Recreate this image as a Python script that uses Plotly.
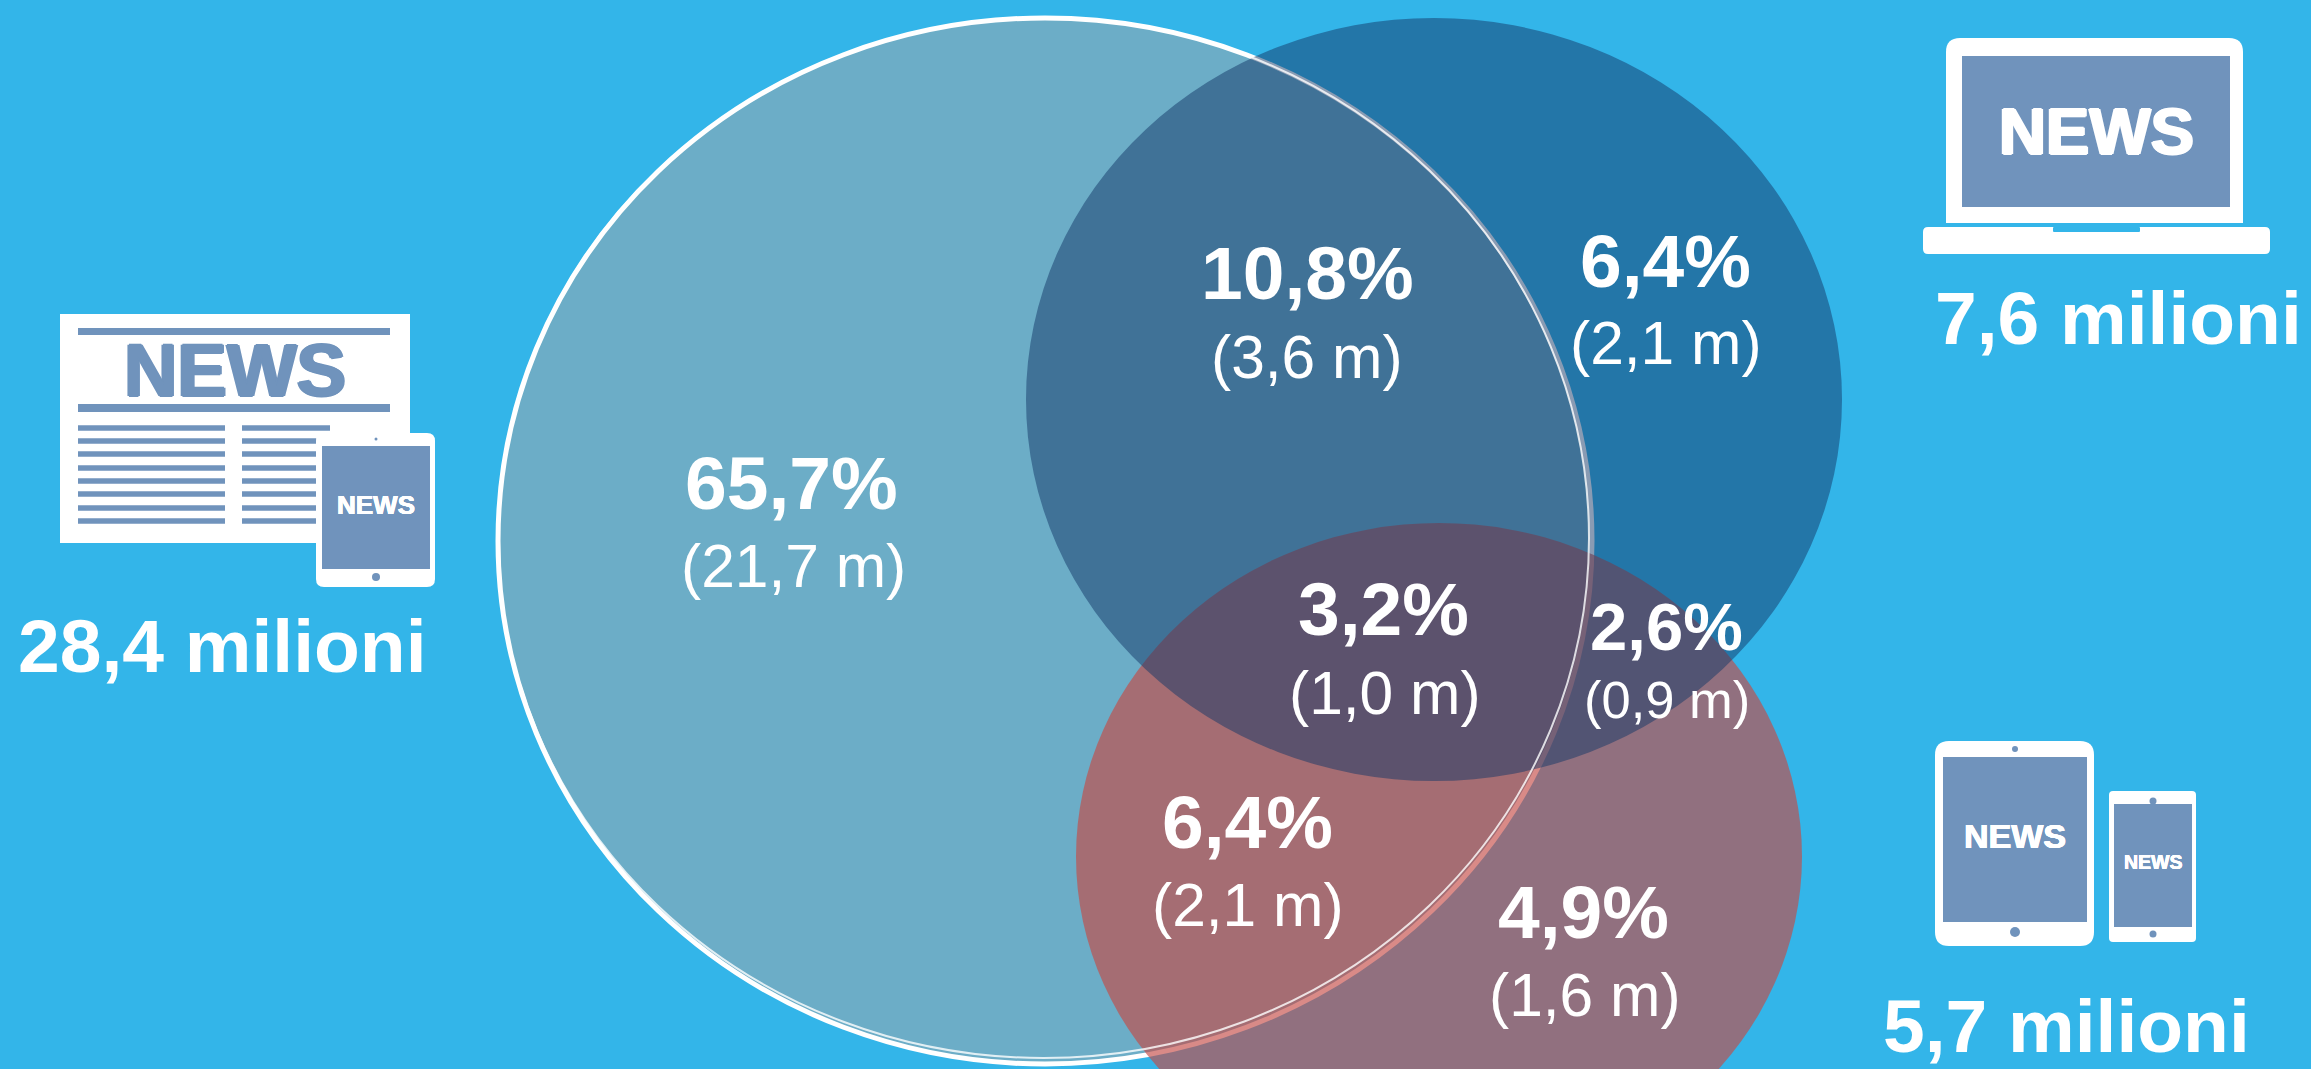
import plotly.graph_objects as go

# ---------- data ----------
pct_labels = ["65,7%", "10,8%", "6,4%", "3,2%", "2,6%", "6,4%", "4,9%"]
abs_labels = ["(21,7 m)", "(3,6 m)", "(2,1 m)", "(1,0 m)", "(0,9 m)", "(2,1 m)", "(1,6 m)"]
pct_x = [791, 1307, 1665, 1383, 1666, 1247, 1583]
pct_y = [483, 273, 261, 609, 626, 822, 912]
abs_x = [793, 1307, 1666, 1385, 1667, 1248, 1585]
abs_y = [566, 357, 343, 693, 699, 905, 995]
pct_size = [75, 75, 75, 75, 67, 75, 75]
abs_size = [60.5, 60.5, 60.5, 60.5, 52.5, 60.5, 60.5]

total_labels = ["28,4 milioni", "7,6 milioni", "5,7 milioni"]
total_x = [222, 2118, 2066]
total_y = [646, 318, 1026]

BG = "#33B5E9"
SLATE = "#7093BC"
WHITE = "#FFFFFF"

# venn ellipses: x0, y0, x1, y1
venn_big = (498, 18, 1592, 1064)
venn_red = (1076, 523, 1802, 1190)
venn_blue = (1026, 18, 1842, 781)
venn_thin = (498, 18, 1589, 1058)

# icon rectangles: x0, y0, x1, y1, colour, corner radius
paper_rects = [
    (60, 314, 410, 543, WHITE, 0),
    (78, 328, 390, 335, SLATE, 0),
    (78, 404, 390, 412, SLATE, 0),
]
paper_line_y = [428, 441, 454, 468, 481, 494, 508, 521]
tablet1_rects = [(316, 433, 435, 587, WHITE, 8), (322, 446, 430, 569, SLATE, 0)]
laptop_rects = [
    (1946, 38, 2243, 223, WHITE, 14),
    (1946, 150, 2243, 223, WHITE, 0),
    (1962, 56, 2230, 207, SLATE, 0),
    (1923, 227, 2270, 254, WHITE, 5),
    (2053, 227, 2140, 232, BG, 1),
]
tablet2_rects = [(1935, 741, 2094, 946, WHITE, 14), (1943, 757, 2087, 922, SLATE, 0)]
phone_rects = [(2109, 791, 2196, 942, WHITE, 4), (2114, 804, 2192, 927, SLATE, 0)]
# dots: cx, cy, r
dots = [(376, 439, 1.5), (376, 577, 4), (2015, 749, 3), (2015, 932, 5),
        (2153, 801, 3.5), (2153, 934, 3.5)]
news_x = [235, 376, 2096, 2015, 2153]
news_y = [370, 505, 131, 836, 862]
news_size = [74, 26, 65, 34, 19.5]
news_color = [SLATE, WHITE, WHITE, WHITE, WHITE]
news_bold = [1.6, 0.4, 1.4, 0.6, 0.3]

FONT = "Liberation Sans"


def rrect(x0, y0, x1, y1, color, r):
    if r == 0:
        return dict(type="rect", x0=x0, y0=y0, x1=x1, y1=y1, fillcolor=color,
                    line_width=0, layer="above")
    p = (f"M{x0+r},{y0} L{x1-r},{y0} Q{x1},{y0} {x1},{y0+r} L{x1},{y1-r} Q{x1},{y1} {x1-r},{y1} "
         f"L{x0+r},{y1} Q{x0},{y1} {x0},{y1-r} L{x0},{y0+r} Q{x0},{y0} {x0+r},{y0} Z")
    return dict(type="path", path=p, fillcolor=color, line_width=0, layer="above")


def ell(box, fill, line=None, width=0):
    x0, y0, x1, y1 = box
    return dict(type="circle", x0=x0, y0=y0, x1=x1, y1=y1, fillcolor=fill,
                line=dict(color=line or "rgba(0,0,0,0)", width=width), layer="above")


shapes = [
    ell(venn_big, "rgba(165,165,165,0.5)", WHITE, 5),
    ell(venn_red, "rgba(197,75,70,0.65)"),
    ell(venn_blue, "rgba(19,55,103,0.5)"),
    ell(venn_thin, "rgba(0,0,0,0)", "rgba(255,255,255,0.8)", 2),
]
shapes += [rrect(*r) for r in paper_rects]
for y in paper_line_y:
    shapes.append(rrect(78, y - 2.8, 225, y + 2.8, SLATE, 0))
    shapes.append(rrect(242, y - 2.8, 330, y + 2.8, SLATE, 0))
for group in (tablet1_rects, laptop_rects, tablet2_rects, phone_rects):
    shapes += [rrect(*r) for r in group]
for cx, cy, r in dots:
    shapes.append(dict(type="circle", x0=cx - r, x1=cx + r, y0=cy - r, y1=cy + r,
                       fillcolor=SLATE, line_width=0, layer="above"))

ann = []
def label(x, y, text, size, bold=False, color=WHITE, shadow=None):
    t = f"<b>{text}</b>" if bold else text
    font = dict(family=FONT, size=size, color=color)
    if shadow:
        font["shadow"] = shadow
    ann.append(dict(x=x, y=y, text=t, showarrow=False, xanchor="center", yanchor="middle", font=font))

for x, y, t, s in zip(pct_x, pct_y, pct_labels, pct_size):
    label(x, y, t, s, True)
for x, y, t, s in zip(abs_x, abs_y, abs_labels, abs_size):
    label(x, y, t, s)
for x, y, t in zip(total_x, total_y, total_labels):
    label(x, y, t, 75, True)
for x, y, s, c, b in zip(news_x, news_y, news_size, news_color, news_bold):
    sh = f"{b}px 0 0 {c}, -{b}px 0 0 {c}, 0 {b/2}px 0 {c}, 0 -{b/2}px 0 {c}"
    label(x, y, "NEWS", s, True, c, sh)

fig = go.Figure()
fig.update_layout(
    width=2311, height=1069, margin=dict(l=0, r=0, t=0, b=0),
    paper_bgcolor=BG, plot_bgcolor=BG, showlegend=False,
    xaxis=dict(range=[0, 2311], visible=False, fixedrange=True),
    yaxis=dict(range=[1069, 0], visible=False, fixedrange=True),
    shapes=shapes, annotations=ann,
)
fig.write_html("out.html", post_script="document.body.style.margin='0';document.body.style.background='#33B5E9';document.body.style.overflow='hidden';",
               config={"displayModeBar": False})
